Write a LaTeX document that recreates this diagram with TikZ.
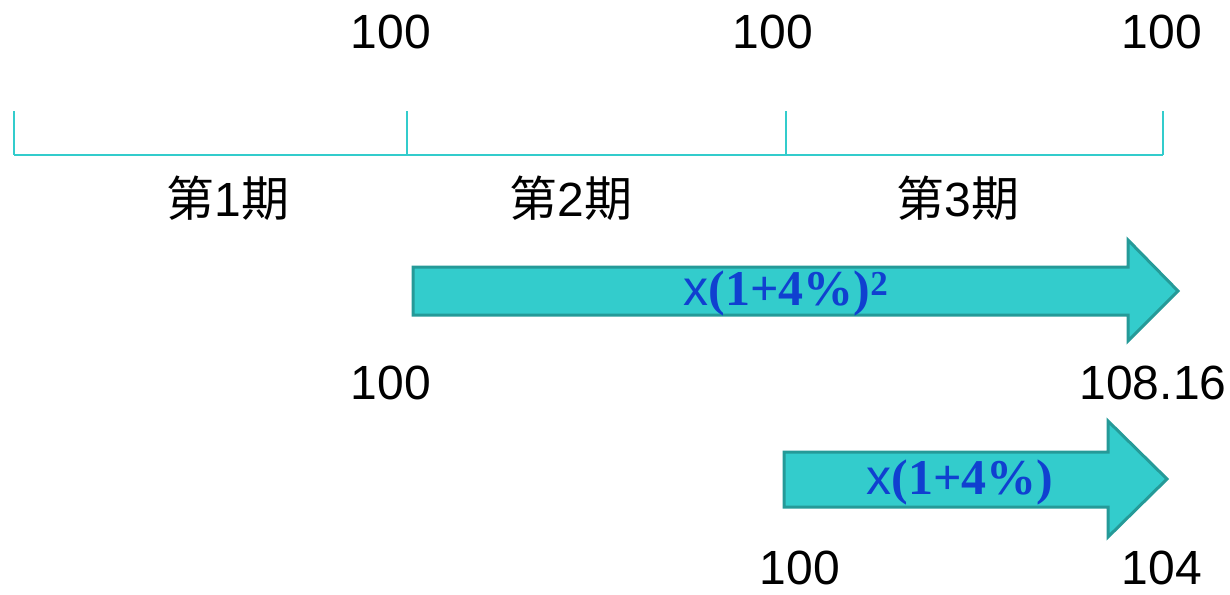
\documentclass[tikz,border=0pt]{standalone}
\usepackage{fontspec}
\setmainfont{Liberation Sans}
\newfontfamily\cjkfont{Noto Sans CJK SC}
\newfontfamily\tmsfont{Liberation Serif}
\newfontfamily\xfont{Liberation Sans}
\definecolor{tq}{HTML}{33CCCC}
\definecolor{tqdark}{HTML}{259A98}
\definecolor{fblue}{HTML}{1040D0}
\tikzset{
  num/.style={font=\fontsize{48}{54}\selectfont, inner sep=0pt},
  period/.style={font=\fontsize{48}{54}\selectfont, inner sep=0pt},
  tline/.style={draw=tq, line width=2pt},
  bigarrow/.style={draw=tqdark, fill=tq, line width=3pt, line join=miter},
  mult/.style={text=fblue, font=\tmsfont\bfseries\fontsize{50}{56}\selectfont, inner sep=0pt}
}
\begin{document}
\begin{tikzpicture}[x=1pt,y=-1pt]
\useasboundingbox (0,0) rectangle (1230,594);
% timeline
\coordinate (t0) at (14,155);
\coordinate (t1) at (407,155);
\coordinate (t2) at (786,155);
\coordinate (t3) at (1163,155);
\coordinate (u0) at (14,111);
\coordinate (u1) at (407,111);
\coordinate (u2) at (786,111);
\coordinate (u3) at (1163,111);
\draw[tline] (t0) -- (t3);
\draw[tline] (u0) -- (t0);
\draw[tline] (u1) -- (t1);
\draw[tline] (u2) -- (t2);
\draw[tline] (u3) -- (t3);
% top labels
\node[num] (a1) at (391,32) {100};
\node[num] (a2) at (773,32) {100};
\node[num] (a3) at (1162,32) {100};
% periods
\node[period] (p1) at (228,198) {{\cjkfont 第}1{\cjkfont 期}};
\node[period] (p2) at (571,198) {{\cjkfont 第}2{\cjkfont 期}};
\node[period] (p3) at (958,198) {{\cjkfont 第}3{\cjkfont 期}};
% arrows
\draw[bigarrow] (413,267) -- (1128,267) -- (1128,240) -- (1178,291) -- (1128,341) -- (1128,315) -- (413,315) -- cycle;
\node[mult] (m1) at (786,293) {{\xfont\mdseries x}(1+4\%)\textsuperscript{2}};
\draw[bigarrow] (784,452) -- (1108,452) -- (1108,421) -- (1167,479) -- (1108,537) -- (1108,507) -- (784,507) -- cycle;
\node[mult] (m2) at (960,482) {{\xfont\mdseries x}(1+4\%)};
% bottom labels
\node[num] (b1) at (391,383) {100};
\node[num] (b2) at (1153,383) {108.16};
\node[num] (c1) at (800,568) {100};
\node[num] (c2) at (1162,568) {104};
\end{tikzpicture}
\end{document}
